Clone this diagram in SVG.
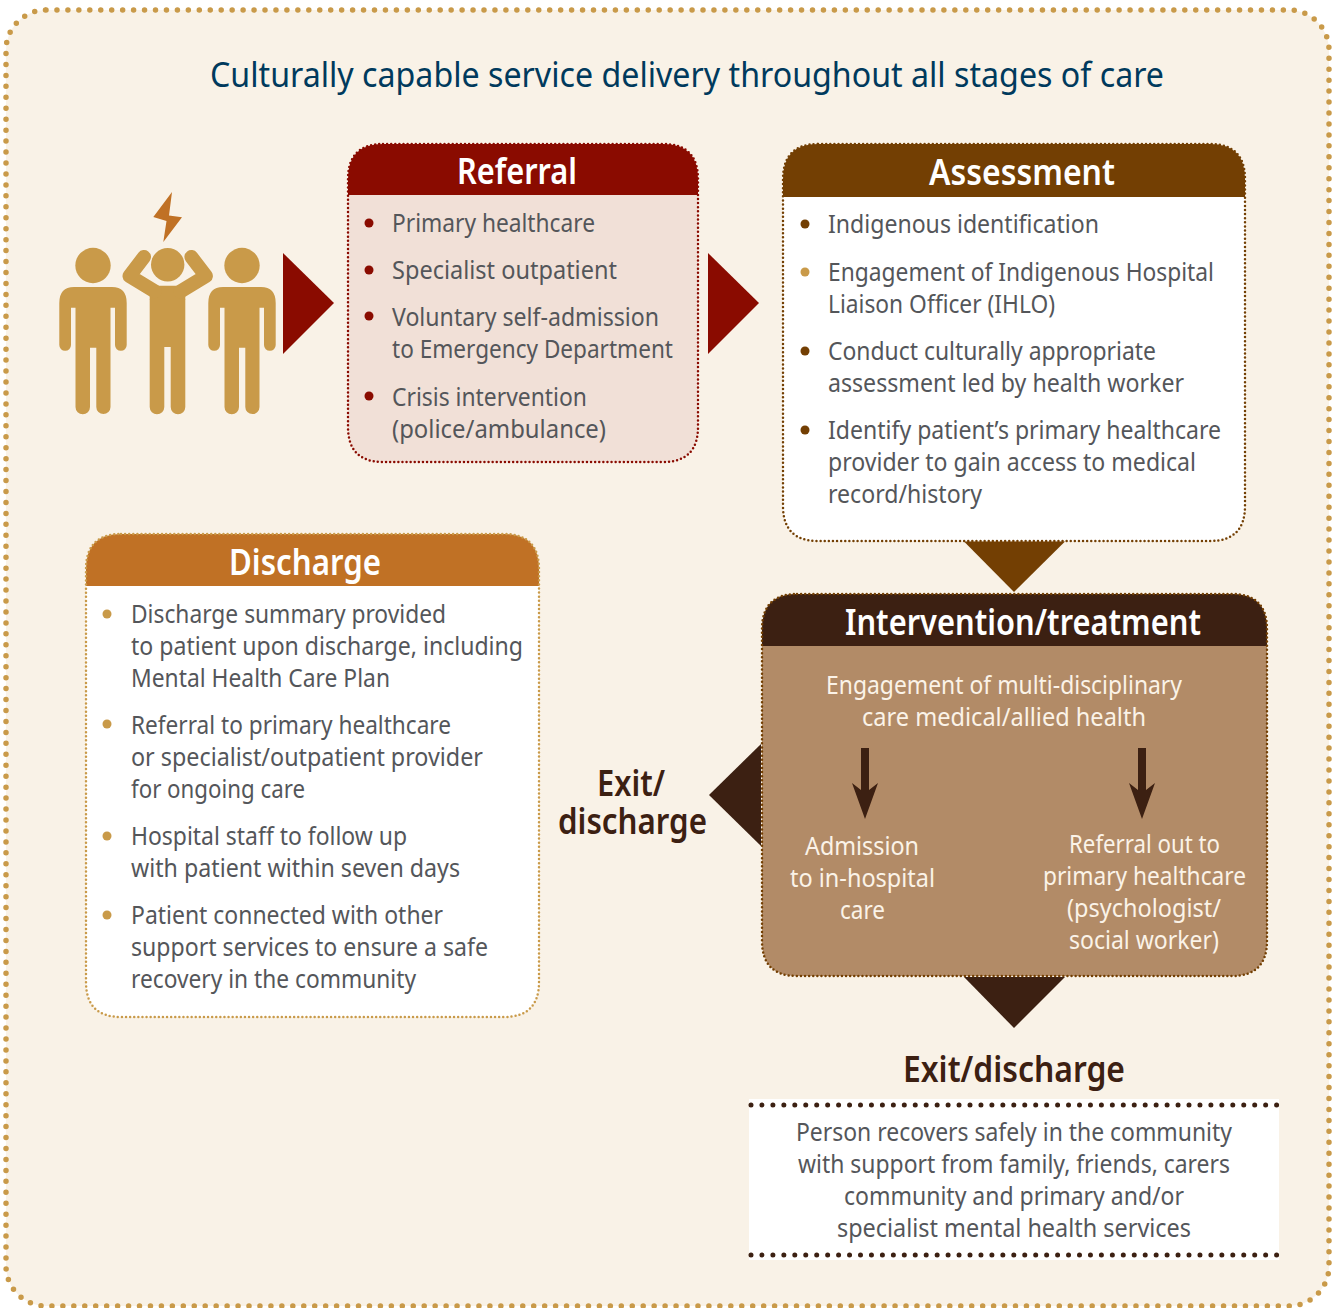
<svg xmlns="http://www.w3.org/2000/svg" xmlns:xlink="http://www.w3.org/1999/xlink" width="1343" height="1308" viewBox="0 0 1343 1308">
<style>
text{font-family:"Noto Sans","Liberation Sans",sans-serif}
.t{font-size:25px;fill:#54565a}
.w{font-size:25px;fill:#fbf3e8}
.h{font-size:36px;font-weight:600;fill:#fff}
.d{font-size:36px;font-weight:600;fill:#3c2012}
.tan{fill:#c99a49}
.dot{fill:none;stroke-linecap:round}
</style>
<defs>
<path id="person" d="M-19 287H19Q33.700 287 33.700 303V345A5.850 5.850 0 0 1 22 345V307.700H17.500V407A7.100 7.100 0 0 1 3.300 407V347.700H-3V407A7.100 7.100 0 0 1-17.500 407V307.700H-22V345A5.850 5.850 0 0 1-33.700 345V303Q-33.700 287-19 287Z"/>
</defs>
<rect width="1343" height="1308" fill="#fff"/>
<g id="page">
<rect x="6" y="10" width="1323" height="1296" rx="40" fill="#f9f2e7"/>
<rect class="dot" x="6" y="10" width="1323" height="1296" rx="40" stroke="#c99a49" stroke-width="5.500" stroke-dasharray="0 10.950"/>
</g>
<text id="title" x="210" y="87" font-size="35" fill="#003a5d" textLength="954" lengthAdjust="spacingAndGlyphs">Culturally capable service delivery throughout all stages of care</text>
<g id="people" class="tan">
<circle cx="93" cy="265.500" r="17.700"/><use xlink:href="#person" href="#person" x="93"/>
<circle cx="242" cy="265.500" r="17.700"/><use xlink:href="#person" href="#person" x="242"/>
<circle cx="167.700" cy="264.700" r="16.700"/>
<path d="M149.700 292H185.300V407A7.300 7.300 0 0 1 170.700 407V347H164.300V407A7.300 7.300 0 0 1 149.700 407Z"/>
<path d="M154 285.700H181L185.300 300H149.700Z"/>
<path d="M144 257L129.500 276L155 291.500M191.400 257L205.900 276L180.400 291.500" fill="none" stroke="#c99a49" stroke-width="14" stroke-linecap="round" stroke-linejoin="round"/>
<polygon points="172,192 153.300,217 166.500,221 163.300,242 182,217.300 169,215.500" fill="#c07125"/>
</g>
<g id="referral">
<path d="M383 144H663Q698 144 698 179V427Q698 462 663 462H383Q348 462 348 427V179Q348 144 383 144Z" fill="#f1e0d7"/>
<path d="M383 144H663Q698 144 698 179V195H348V179Q348 144 383 144Z" fill="#8a0b00"/>
<path class="dot" d="M383 144H663Q698 144 698 179V427Q698 462 663 462H383Q348 462 348 427V179Q348 144 383 144Z" stroke="#8a0b00" stroke-width="2.500" stroke-dasharray="0 4.100"/>
<text class="h" x="457" y="184" textLength="120" lengthAdjust="spacingAndGlyphs">Referral</text>
<g fill="#8a0b00"><circle cx="369" cy="223" r="4.500"/><circle cx="369" cy="270" r="4.500"/><circle cx="369" cy="316" r="4.500"/><circle cx="369" cy="396" r="4.500"/></g>
<text class="t" x="392" y="232" textLength="203" lengthAdjust="spacingAndGlyphs">Primary healthcare</text>
<text class="t" x="392" y="279" textLength="225" lengthAdjust="spacingAndGlyphs">Specialist outpatient</text>
<text class="t" x="392" y="326" textLength="267" lengthAdjust="spacingAndGlyphs">Voluntary self-admission</text>
<text class="t" x="392" y="358" textLength="281" lengthAdjust="spacingAndGlyphs">to Emergency Department</text>
<text class="t" x="392" y="406" textLength="195" lengthAdjust="spacingAndGlyphs">Crisis intervention</text>
<text class="t" x="392" y="438" textLength="214" lengthAdjust="spacingAndGlyphs">(police/ambulance)</text>
</g>
<g id="assessment">
<path d="M818 144H1210Q1245 144 1245 179V506Q1245 541 1210 541H818Q783 541 783 506V179Q783 144 818 144Z" fill="#fff"/>
<path d="M818 144H1210Q1245 144 1245 179V197H783V179Q783 144 818 144Z" fill="#733f03"/>
<path class="dot" d="M818 144H1210Q1245 144 1245 179V506Q1245 541 1210 541H818Q783 541 783 506V179Q783 144 818 144Z" stroke="#733f03" stroke-width="2.500" stroke-dasharray="0 4.100"/>
<text class="h" x="929" y="185" textLength="186" lengthAdjust="spacingAndGlyphs">Assessment</text>
<g fill="#733f03"><circle cx="805" cy="224" r="4.500"/><circle cx="805" cy="351" r="4.500"/><circle cx="805" cy="430" r="4.500"/></g>
<circle class="tan" cx="805" cy="272" r="4.500"/>
<text class="t" x="828" y="233" textLength="271" lengthAdjust="spacingAndGlyphs">Indigenous identification</text>
<text class="t" x="828" y="281" textLength="386" lengthAdjust="spacingAndGlyphs">Engagement of Indigenous Hospital</text>
<text class="t" x="828" y="313" textLength="227" lengthAdjust="spacingAndGlyphs">Liaison Officer (IHLO)</text>
<text class="t" x="828" y="360" textLength="328" lengthAdjust="spacingAndGlyphs">Conduct culturally appropriate</text>
<text class="t" x="828" y="392" textLength="356" lengthAdjust="spacingAndGlyphs">assessment led by health worker</text>
<text class="t" x="828" y="439" textLength="393" lengthAdjust="spacingAndGlyphs">Identify patient’s primary healthcare</text>
<text class="t" x="828" y="471" textLength="368" lengthAdjust="spacingAndGlyphs">provider to gain access to medical</text>
<text class="t" x="828" y="503" textLength="154" lengthAdjust="spacingAndGlyphs">record/history</text>
</g>
<g id="intervention">
<path d="M797 594H1232Q1267 594 1267 629V941Q1267 976 1232 976H797Q762 976 762 941V629Q762 594 797 594Z" fill="#b28b67"/>
<path d="M797 594H1232Q1267 594 1267 629V646H762V629Q762 594 797 594Z" fill="#3c2012"/>
<path class="dot" d="M797 594H1232Q1267 594 1267 629V941Q1267 976 1232 976H797Q762 976 762 941V629Q762 594 797 594Z" stroke="#733f03" stroke-width="2.500" stroke-dasharray="0 4.100"/>
<text class="h" x="845" y="635" textLength="356" lengthAdjust="spacingAndGlyphs">Intervention/treatment</text>
<text class="w" x="826" y="694" textLength="356" lengthAdjust="spacingAndGlyphs">Engagement of multi-disciplinary</text>
<text class="w" x="862" y="726" textLength="284" lengthAdjust="spacingAndGlyphs">care medical/allied health</text>
<text class="w" x="805" y="855" textLength="114" lengthAdjust="spacingAndGlyphs">Admission</text>
<text class="w" x="790" y="887" textLength="145" lengthAdjust="spacingAndGlyphs">to in-hospital</text>
<text class="w" x="840" y="919" textLength="45" lengthAdjust="spacingAndGlyphs">care</text>
<text class="w" x="1069" y="853" textLength="151" lengthAdjust="spacingAndGlyphs">Referral out to</text>
<text class="w" x="1043" y="885" textLength="203" lengthAdjust="spacingAndGlyphs">primary healthcare</text>
<text class="w" x="1067" y="917" textLength="154" lengthAdjust="spacingAndGlyphs">(psychologist/</text>
<text class="w" x="1069" y="949" textLength="150" lengthAdjust="spacingAndGlyphs">social worker)</text>
</g>
<g id="discharge">
<path d="M121 534H504Q539 534 539 569V982Q539 1017 504 1017H121Q86 1017 86 982V569Q86 534 121 534Z" fill="#fff"/>
<path d="M121 534H504Q539 534 539 569V586H86V569Q86 534 121 534Z" fill="#c07125"/>
<path class="dot" d="M121 534H504Q539 534 539 569V982Q539 1017 504 1017H121Q86 1017 86 982V569Q86 534 121 534Z" stroke="#c99a49" stroke-width="2.500" stroke-dasharray="0 4.100"/>
<text class="h" x="229" y="575" textLength="152" lengthAdjust="spacingAndGlyphs">Discharge</text>
<g class="tan"><circle cx="107" cy="614" r="4.500"/><circle cx="107" cy="724" r="4.500"/><circle cx="107" cy="836" r="4.500"/><circle cx="107" cy="915" r="4.500"/></g>
<text class="t" x="131" y="623" textLength="315" lengthAdjust="spacingAndGlyphs">Discharge summary provided</text>
<text class="t" x="131" y="655" textLength="392" lengthAdjust="spacingAndGlyphs">to patient upon discharge, including</text>
<text class="t" x="131" y="687" textLength="259" lengthAdjust="spacingAndGlyphs">Mental Health Care Plan</text>
<text class="t" x="131" y="734" textLength="320" lengthAdjust="spacingAndGlyphs">Referral to primary healthcare</text>
<text class="t" x="131" y="766" textLength="352" lengthAdjust="spacingAndGlyphs">or specialist/outpatient provider</text>
<text class="t" x="131" y="798" textLength="174" lengthAdjust="spacingAndGlyphs">for ongoing care</text>
<text class="t" x="131" y="845" textLength="276" lengthAdjust="spacingAndGlyphs">Hospital staff to follow up</text>
<text class="t" x="131" y="877" textLength="329" lengthAdjust="spacingAndGlyphs">with patient within seven days</text>
<text class="t" x="131" y="924" textLength="312" lengthAdjust="spacingAndGlyphs">Patient connected with other</text>
<text class="t" x="131" y="956" textLength="357" lengthAdjust="spacingAndGlyphs">support services to ensure a safe</text>
<text class="t" x="131" y="988" textLength="285" lengthAdjust="spacingAndGlyphs">recovery in the community</text>
</g>
<g id="exit-side">
<text class="d"><tspan x="597" y="796" textLength="68" lengthAdjust="spacingAndGlyphs">Exit/</tspan><tspan x="558" y="834" textLength="149" lengthAdjust="spacingAndGlyphs">discharge</tspan></text>
</g>
<g id="exit-bottom">
<text class="d" x="903" y="1082" textLength="222" lengthAdjust="spacingAndGlyphs">Exit/discharge</text>
<rect x="749" y="1099" width="530" height="161" fill="#fff"/>
<path class="dot" d="M751 1105H1278M751 1255H1278" stroke="#3c2012" stroke-width="5" stroke-dasharray="0 10.950"/>
<text class="t" x="796" y="1141" textLength="436" lengthAdjust="spacingAndGlyphs">Person recovers safely in the community</text>
<text class="t" x="798" y="1173" textLength="432" lengthAdjust="spacingAndGlyphs">with support from family, friends, carers</text>
<text class="t" x="844" y="1205" textLength="340" lengthAdjust="spacingAndGlyphs">community and primary and/or</text>
<text class="t" x="837" y="1237" textLength="354" lengthAdjust="spacingAndGlyphs">specialist mental health services</text>
</g>
<g id="connectors">
<polygon points="283,253 334,303 283,354" fill="#8a0b00"/>
<polygon points="708,253 759,303 708,354" fill="#8a0b00"/>
<polygon points="964,541.500 1065,541.500 1014,592" fill="#733f03"/>
<polygon points="761,744 709,795 761,846" fill="#3c2012"/>
<polygon points="964,977 1065,977 1014,1028" fill="#3c2012"/>
<path d="M861 748H869V790L878 783L865 819L852 783L861 790Z" fill="#3c2012"/>
<path d="M1138 748H1146V790L1155 783L1142 819L1129 783L1138 790Z" fill="#3c2012"/>
</g>
</svg>
